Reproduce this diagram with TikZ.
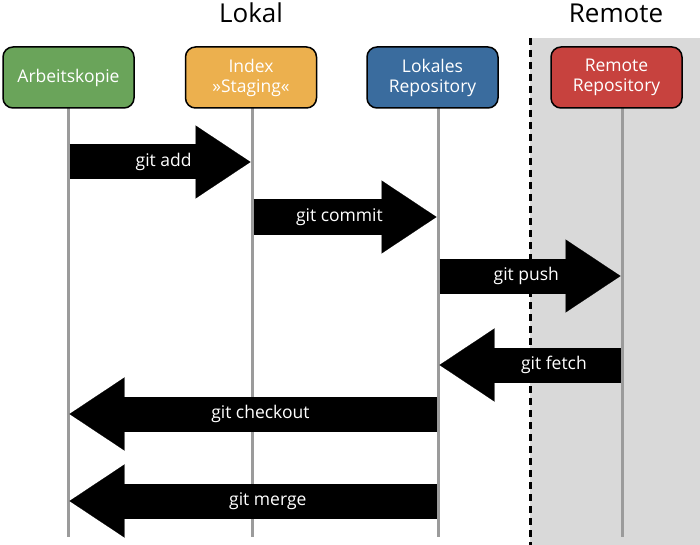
\documentclass[tikz,border=0pt]{standalone}
\usepackage{fontspec}
\setmainfont{Open Sans}
\usetikzlibrary{arrows.meta}

\definecolor{akgreen}{RGB}{106,164,90}
\definecolor{ixorange}{RGB}{236,176,78}
\definecolor{lrblue}{RGB}{58,108,158}
\definecolor{rrred}{RGB}{199,66,62}
\definecolor{remotegray}{RGB}{217,217,217}
\definecolor{lifegray}{RGB}{155,155,155}

\begin{document}
\begin{tikzpicture}[x=1pt,y=-1pt,
			box/.style={draw=black,line width=1.5pt,rounded corners=10pt,minimum width=131pt,minimum height=61pt,inner sep=0pt,text=white,align=center,font=\fontsize{17.5}{20}\selectfont},
			head/.style={font=\fontsize{26}{30}\selectfont,anchor=base},
			lifeline/.style={lifegray,line width=3pt},
			fatarrow/.style={line width=35pt,-{Triangle[length=55pt,width=73pt,line width=0.1pt]},shorten <=1.5pt,shorten >=1.5pt},
			cmd/.style={text=white,font=\fontsize{17.5}{20}\selectfont}]
			\useasboundingbox (0,0) rectangle (700,545);
			
			% remote area
			\fill[remotegray] (530,38) rectangle (700,545);
			\draw[line width=3pt,dash pattern=on 7pt off 5pt] (530,38) -- (530,545);
			
			\node[head] (lokal) at (251,23) {Lokal};
			\node[head] (remote) at (616,23) {Remote};
			
			% lifelines
			\coordinate (ak-l) at (68,537);
			\coordinate (ix-l) at (252,537);
			\coordinate (lr-l) at (438,537);
			\coordinate (rr-l) at (622,537);
			\draw[lifeline] (ak-l |- 0,100) -- (ak-l);
			\draw[lifeline] (ix-l |- 0,100) -- (ix-l);
			\draw[lifeline] (lr-l |- 0,100) -- (lr-l);
			\draw[lifeline] (rr-l |- 0,100) -- (rr-l);
			
			\node[box,fill=akgreen] (ak) at (68.5,77.5) {Arbeitskopie};
			\node[box,fill=ixorange] (ix) at (251,77.5) {Index\\»Staging«};
			\node[box,fill=lrblue] (lr) at (432.5,77.5) {Lokales\\Repository};
			\node[box,fill=rrred] (rr) at (616.5,77.5) {Remote\\Repository};
			
			% commands
			\draw[fatarrow] (ak-l |- 0,162) -- (ix-l |- 0,162) node[cmd,pos=0.52] {git add};
			\draw[fatarrow] (ix-l |- 0,217) -- (lr-l |- 0,217) node[cmd,pos=0.47] {git commit};
			\draw[fatarrow] (lr-l |- 0,276) -- (rr-l |- 0,276) node[cmd,pos=0.48] {git push};
			\draw[fatarrow] (rr-l |- 0,365) -- (lr-l |- 0,365) node[cmd,pos=0.37] {git fetch};
			\draw[fatarrow] (lr-l |- 0,414) -- (ak-l |- 0,414) node[cmd,pos=0.48] {git checkout};
			\draw[fatarrow] (lr-l |- 0,501) -- (ak-l |- 0,501) node[cmd,pos=0.46] {git merge};
\end{tikzpicture}
\end{document}
